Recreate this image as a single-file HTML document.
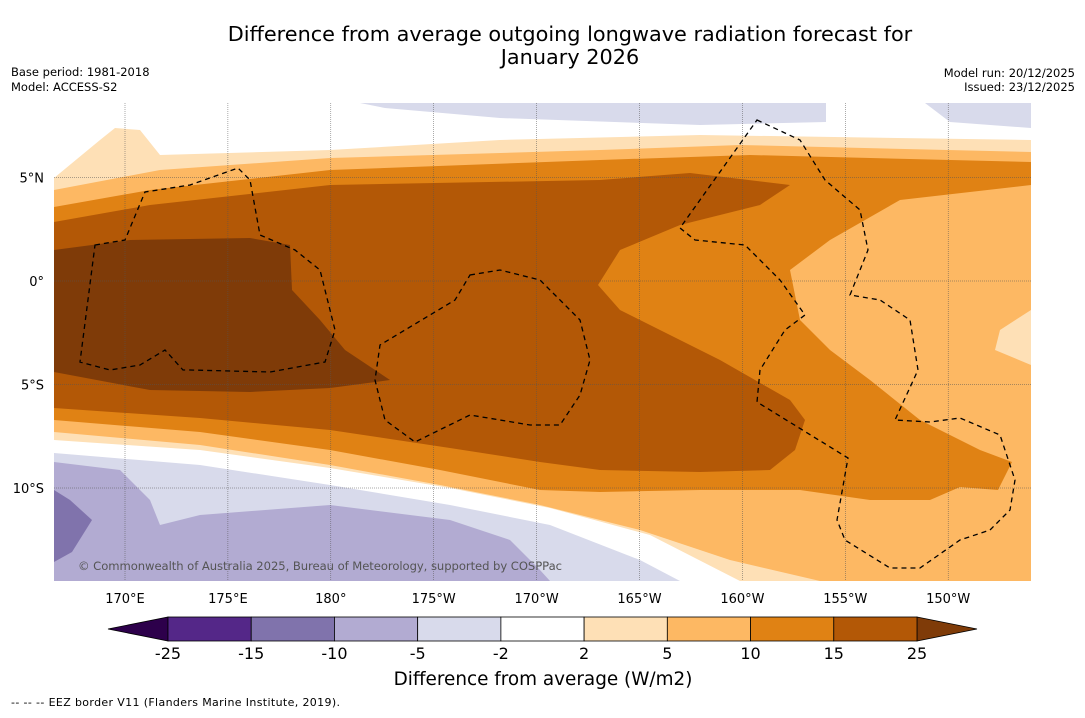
<!DOCTYPE html>
<html><head><meta charset="utf-8"><style>
body{margin:0;background:#fff;font-family:"Liberation Sans","DejaVu Sans",sans-serif;}
svg text{font-family:"DejaVu Sans","Liberation Sans",sans-serif;}
</style></head><body>
<svg id="chart" width="1085" height="713" viewBox="0 0 1085 713" xmlns="http://www.w3.org/2000/svg">
<text x="570" y="41" font-size="20.8" text-anchor="middle">Difference from average outgoing longwave radiation forecast for</text>
<text x="570" y="64" font-size="20.8" text-anchor="middle">January 2026</text>
<text x="11" y="76" font-size="11.5">Base period: 1981-2018</text>
<text x="11" y="91" font-size="11.5">Model: ACCESS-S2</text>
<text x="1075" y="77" font-size="11.5" text-anchor="end">Model run: 20/12/2025</text>
<text x="1075" y="91" font-size="11.5" text-anchor="end">Issued: 23/12/2025</text>
<defs><clipPath id="mapclip"><rect x="54" y="103" width="977" height="478"/></clipPath></defs>
<g id="map" clip-path="url(#mapclip)">
<rect x="54" y="103" width="977" height="478" fill="#ffffff"/>
<polygon fill="#d8daeb" points="360,103 826,103 826,122 700,125 500,118 385,108"/>
<polygon fill="#d8daeb" points="925,103 1031,103 1031,128 950,122"/>
<polygon fill="#fee0b6" points="54,178 100,140 115,128 140,130 160,155 330,150 500,140 700,135 1031,140 1031,581 740,581 650,535 550,508 450,488 330,468 200,450 54,440"/>
<polygon fill="#fdb863" points="54,190 160,170 330,158 600,150 740,145 1031,152 1031,581 820,581 730,560 640,530 540,505 440,485 330,465 200,445 54,432"/>
<polygon fill="#e08214" points="54,207 150,190 330,170 600,160 750,155 1031,162 1031,185 900,200 830,240 790,270 800,320 830,350 870,380 920,420 980,450 1012,462 998,490 960,487 930,500 870,500 800,490 700,490 600,492 540,490 440,470 330,450 200,432 54,420"/>
<polygon fill="#b35806" points="54,222 150,205 330,185 600,180 690,173 790,185 760,205 680,225 620,250 598,285 620,310 660,330 720,360 790,400 805,420 795,450 770,470 700,472 600,470 540,462 450,448 330,430 200,418 54,408"/>
<polygon fill="#7f3b08" points="54,250 130,240 250,238 290,245 292,290 320,320 345,350 390,380 330,388 250,392 150,390 54,372"/>
<polygon fill="#d8daeb" points="54,453 200,465 330,485 450,505 550,525 640,560 680,581 54,581"/>
<polygon fill="#b2abd2" points="54,462 120,470 150,500 160,525 200,515 330,505 450,520 510,540 540,570 550,581 54,581"/>
<polygon fill="#8073ac" points="54,490 70,500 92,520 72,552 54,562"/>
<polygon fill="#fee0b6" points="1031,310 1000,330 995,350 1031,365"/>
<g id="grid" stroke="#555" stroke-width="0.5" stroke-dasharray="1,1"></g>
<g fill="none" stroke="#000" stroke-width="1.3" stroke-dasharray="5,4">
<path d="M95,245 L125,240 L145,192 L190,185 L238,168 L250,180 L260,235 L295,250 L320,270 L335,330 L325,362 L270,372 L190,370 L183,370 L165,350 L140,365 L110,370 L80,362 Z"/>
<path d="M470,275 L500,270 L540,280 L580,320 L590,360 L580,395 L560,425 L530,425 L470,415 L415,442 L385,420 L375,380 L380,345 L455,300 Z"/>
<path d="M757,120 L800,140 L825,180 L860,210 L868,250 L850,295 L880,300 L910,320 L918,370 L895,420 L930,422 L960,418 L1000,435 L1015,480 L1010,510 L990,530 L960,540 L920,568 L890,568 L845,540 L837,520 L848,458 L757,402 L760,370 L785,330 L805,315 L780,280 L745,245 L695,240 L680,228 Z"/>
</g>
</g>
<text x="78" y="570" font-size="11.6" fill="#555" textLength="484">© Commonwealth of Australia 2025, Bureau of Meteorology, supported by COSPPac</text>
<g id="axes" font-size="13"></g>
<g id="colorbar"></g>
<text x="543" y="685" font-size="18.4" text-anchor="middle">Difference from average (W/m2)</text>
<text x="11" y="706" font-size="11" textLength="329">--  --  -- EEZ border V11 (Flanders Marine Institute, 2019).</text>
</svg>
<script>
const lonTicks=["170°E","175°E","180°","175°W","170°W","165°W","160°W","155°W","150°W"];
const latTicks=["5°N","0°","5°S","10°S"];
const latValues=[5,0,-5,-10];
const cbLevels=["-25","-15","-10","-5","-2","2","5","10","15","25"];
const cbColors=["#542788","#8073ac","#b2abd2","#d8daeb","#ffffff","#fee0b6","#fdb863","#e08214","#b35806"];
const NS="http://www.w3.org/2000/svg";
function mk(t,a,p){const e=document.createElementNS(NS,t);for(const k in a)e.setAttribute(k,a[k]);p.appendChild(e);return e;}
const lonX=i=>125+i*102.9;
const latY=v=>281-v*20.7;
const grid=document.getElementById('grid'),axes=document.getElementById('axes');
lonTicks.forEach((l,i)=>{
 const ln=mk('line',{x1:lonX(i),x2:lonX(i),y1:103,y2:581},grid);
 
 
 const t=mk('text',{x:lonX(i),y:603,'text-anchor':'middle'},axes);t.textContent=l;
 
 
});
latTicks.forEach((l,i)=>{
 const y=latY(latValues[i]);
 const ln=mk('line',{x1:54,x2:1031,y1:y,y2:y},grid);
 
 
 const t=mk('text',{x:44,y:y+5,'text-anchor':'end'},axes);t.textContent=l;
 
 
});
const cb=document.getElementById('colorbar');
const x0=168,x1=917,y0=617,h=24,w=(x1-x0)/cbColors.length;
const lt=mk('polygon',{points:`108,629 ${x0},${y0} ${x0},${y0+h}`,fill:'#2d004b',stroke:'#000','stroke-width':0.8},cb);


const rt=mk('polygon',{points:`${x1},${y0} 977,629 ${x1},${y0+h}`,fill:'#7f3b08',stroke:'#000','stroke-width':0.8},cb);


cbColors.forEach((c,i)=>{
 const r=mk('rect',{x:x0+i*w,y:y0,width:w,height:h,fill:c,stroke:'#000','stroke-width':0.8},cb);
 
 
});
cbLevels.forEach((l,i)=>{
 const t=mk('text',{x:x0+i*w,y:659,'font-size':16,'text-anchor':'middle'},cb);t.textContent=l;
 
 
});
</script>
</body></html>
